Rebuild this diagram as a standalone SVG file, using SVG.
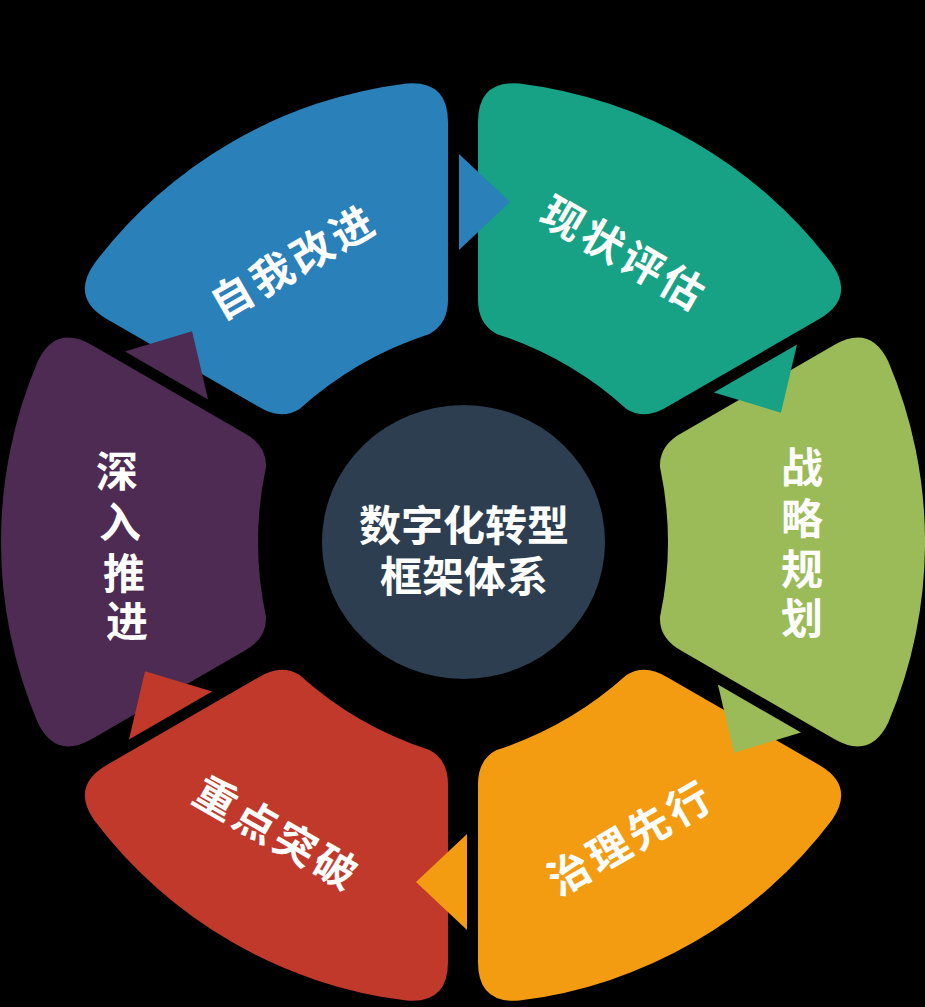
<svg xmlns="http://www.w3.org/2000/svg" xmlns:xlink="http://www.w3.org/1999/xlink" width="925" height="1007" viewBox="0 0 925 1007">
<style>
.lbl{font-family:"Noto Sans CJK SC","Noto Sans",sans-serif;font-weight:bold;font-size:42px;fill:#ffffff;text-anchor:middle;dominant-baseline:central}
.seg-lbl{letter-spacing:4px}
</style>
<defs>
<path id="seg" d="M 219.7 -109.5 L 371.2 -197 Q 407.4 -217.9 425.3 -180.5 A 462 462 0 0 1 425.3 180.5 Q 407.4 217.9 371.2 197 L 219.7 109.5 Q 196 97 197 75 Q 213 0 197 -75 Q 196 -97 219.7 -109.5 Z"/>
<polygon id="arr" points="-4,-388 -4,-292 47,-340"/>
</defs>
<rect x="0" y="0" width="925" height="1007" fill="#000000"/>
<g id="node-self-improve">
<use xlink:href="#seg" transform="translate(463,542) rotate(-120)" fill="#2A80B9"/>
<text class="lbl seg-lbl" x="292" y="259" transform="rotate(-30 292 259)">自我改进</text>
</g>
<g id="node-assessment">
<use xlink:href="#seg" transform="translate(463,542) rotate(-60)" fill="#17A185"/>
<text class="lbl seg-lbl" x="626" y="251" transform="rotate(30 626 251)">现状评估</text>
</g>
<g id="node-strategy">
<use xlink:href="#seg" transform="translate(463,542)" fill="#9BBB59"/>
<text class="lbl" x="802"><tspan x="802" y="464">战</tspan><tspan x="802" y="515">略</tspan><tspan x="802" y="566">规</tspan><tspan x="802" y="615">划</tspan></text>
</g>
<g id="node-governance">
<use xlink:href="#seg" transform="translate(463,542) rotate(60)" fill="#F39C12"/>
<text class="lbl seg-lbl" x="629" y="835" transform="rotate(-30 629 835)">治理先行</text>
</g>
<g id="node-breakthrough">
<use xlink:href="#seg" transform="translate(463,542) rotate(120)" fill="#C0392B"/>
<text class="lbl seg-lbl" x="279" y="831" transform="rotate(30 279 831)">重点突破</text>
</g>
<g id="node-deepen">
<use xlink:href="#seg" transform="translate(463,542) rotate(180)" fill="#4D2B52"/>
<text class="lbl"><tspan x="117" y="468">深</tspan><tspan x="120" y="519">入</tspan><tspan x="124" y="570">推</tspan><tspan x="127" y="618">进</tspan></text>
</g>
<g id="node-center">
<ellipse cx="463.5" cy="542" rx="141.5" ry="137" fill="#2D3E50"/>
<text class="lbl"><tspan x="464" y="522">数字化转型</tspan><tspan x="464" y="573">框架体系</tspan></text>
</g>
<g id="connectors">
<use xlink:href="#arr" transform="translate(463,542)" fill="#2A80B9"/>
<use xlink:href="#arr" transform="translate(463,542) rotate(60)" fill="#17A185"/>
<use xlink:href="#arr" transform="translate(463,542) rotate(120)" fill="#9BBB59"/>
<use xlink:href="#arr" transform="translate(463,542) rotate(180)" fill="#F39C12"/>
<use xlink:href="#arr" transform="translate(463,542) rotate(240)" fill="#C0392B"/>
<use xlink:href="#arr" transform="translate(463,542) rotate(300)" fill="#4D2B52"/>
</g>
</svg>
